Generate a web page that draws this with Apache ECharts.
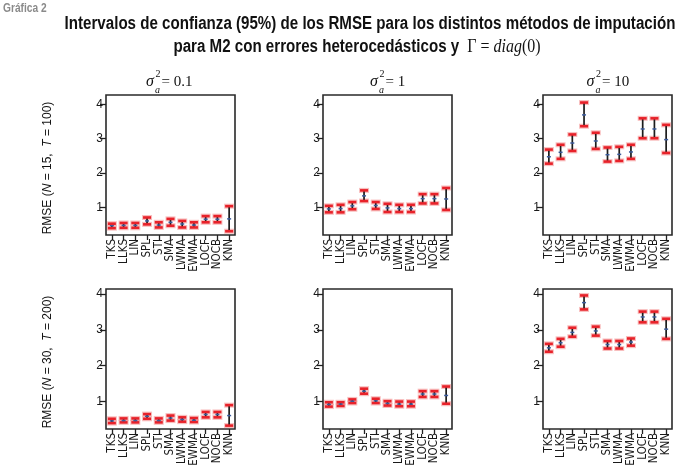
<!DOCTYPE html>
<html>
<head>
<meta charset="utf-8">
<script src="https://cdn.jsdelivr.net/npm/echarts@6/dist/echarts.min.js"></script>
<style>
  html, body { margin: 0; padding: 0; background: #fff; }
  #chart { width: 677px; height: 470px; }
</style>
</head>
<body>
<div id="chart"></div>
<script>
// métodos de imputación
const categories = ["TKS", "LLKS", "LIN", "SPL", "STI", "SMA", "LWMA", "EWMA", "LOCF", "NOCB", "KNN"];
const yTicks = [1, 2, 3, 4];

// fila 1: N = 15, T = 100
const lo11 = [0.39, 0.40, 0.40, 0.50, 0.41, 0.46, 0.41, 0.41, 0.56, 0.56, 0.30];
const mid11 = [0.46, 0.47, 0.47, 0.60, 0.48, 0.56, 0.51, 0.48, 0.65, 0.65, 0.66];
const hi11 = [0.52, 0.54, 0.54, 0.70, 0.56, 0.66, 0.60, 0.56, 0.74, 0.74, 1.03];

const lo12 = [0.85, 0.85, 0.94, 1.18, 0.95, 0.86, 0.86, 0.86, 1.11, 1.11, 0.92];
const mid12 = [0.95, 0.96, 1.04, 1.33, 1.05, 0.98, 0.96, 0.96, 1.25, 1.25, 1.24];
const hi12 = [1.04, 1.07, 1.15, 1.49, 1.15, 1.10, 1.07, 1.07, 1.38, 1.38, 1.56];

const lo13 = [2.27, 2.41, 2.64, 3.36, 2.70, 2.33, 2.35, 2.41, 3.01, 3.01, 2.58];
const mid13 = [2.47, 2.60, 2.87, 3.69, 2.93, 2.53, 2.54, 2.61, 3.28, 3.28, 2.97];
const hi13 = [2.68, 2.82, 3.12, 4.05, 3.17, 2.74, 2.76, 2.82, 3.59, 3.59, 3.40];

// fila 2: N = 30, T = 200
const lo21 = [0.40, 0.42, 0.42, 0.52, 0.42, 0.47, 0.44, 0.43, 0.56, 0.56, 0.33];
const mid21 = [0.46, 0.47, 0.47, 0.59, 0.47, 0.54, 0.50, 0.48, 0.64, 0.64, 0.61];
const hi21 = [0.52, 0.53, 0.53, 0.65, 0.53, 0.61, 0.56, 0.54, 0.71, 0.71, 0.90];

const lo22 = [0.86, 0.88, 0.96, 1.22, 0.96, 0.89, 0.87, 0.87, 1.13, 1.13, 0.94];
const mid22 = [0.92, 0.93, 1.01, 1.29, 1.02, 0.95, 0.93, 0.93, 1.21, 1.21, 1.17];
const hi22 = [0.98, 0.98, 1.06, 1.36, 1.08, 1.01, 1.00, 1.00, 1.29, 1.29, 1.42];

const lo23 = [2.39, 2.53, 2.81, 3.57, 2.84, 2.48, 2.48, 2.56, 3.21, 3.21, 2.75];
const mid23 = [2.50, 2.64, 2.93, 3.76, 2.97, 2.59, 2.59, 2.66, 3.36, 3.36, 3.02];
const hi23 = [2.61, 2.75, 3.06, 3.96, 3.09, 2.69, 2.69, 2.76, 3.51, 3.51, 3.31];

const panelTitles = ["0.1", "1", "10"];
const rowLabels = [["15", "100"], ["30", "200"]];

const panels = [
  [lo11, mid11, hi11], [lo12, mid12, hi12], [lo13, mid13, hi13],
  [lo21, mid21, hi21], [lo22, mid22, hi22], [lo23, mid23, hi23],
];

const colLeft = [106, 323, 543];
const rowTop = [95, 289];
const boxW = 129;
const boxH = 140;
const rowMin = [0.19, 0.235];
const rowMax = [4.27, 4.14];

const cond = "'DejaVu Sans Condensed', 'Liberation Sans', sans-serif";
const sans = "'Liberation Sans', 'DejaVu Sans', sans-serif";
const serif = "'Liberation Serif', 'DejaVu Serif', serif";

function renderItem(params, api) {
  const x = api.value(0);
  const lo = api.coord([x, api.value(1)]);
  const mid = api.coord([x, api.value(2)]);
  const hi = api.coord([x, api.value(3)]);
  const cap = (p, w, lw, color) => ({
    type: "line",
    shape: { x1: p[0] - w / 2, y1: p[1], x2: p[0] + w / 2, y2: p[1] },
    style: { stroke: color, lineWidth: lw },
  });
  return {
    type: "group",
    children: [
      cap(lo, 10, 5, "rgba(240,110,110,0.45)"),
      cap(hi, 10, 5, "rgba(240,110,110,0.45)"),
      {
        type: "line",
        shape: { x1: lo[0], y1: lo[1], x2: hi[0], y2: hi[1] },
        style: { stroke: "#1c1c1c", lineWidth: 1.7 },
      },
      cap(lo, 8, 2.6, "#e8222a"),
      cap(hi, 8, 2.6, "#e8222a"),
      cap(mid, 4, 1.5, "#3b5b9c"),
    ],
  };
}

const grids = [], xAxes = [], yAxes = [], series = [], graphics = [];

panels.forEach((p, k) => {
  const r = Math.floor(k / 3), c = k % 3;
  grids.push({
    left: colLeft[c], top: rowTop[r], width: boxW, height: boxH,
    show: true, borderColor: "#2a2a2a", borderWidth: 1.6, backgroundColor: "transparent",
  });
  xAxes.push({
    type: "category", gridIndex: k, data: categories, boundaryGap: true,
    axisLine: { show: false },
    axisTick: { show: true, alignWithLabel: true, length: 5, lineStyle: { color: "#222", width: 1.3 } },
    axisLabel: { rotate: 90, interval: 0, margin: 4, fontSize: 11.5, color: "#1a1a1a", fontFamily: cond },
    splitLine: { show: false },
  });
  yAxes.push({
    type: "value", gridIndex: k, min: rowMin[r], max: rowMax[r],
    axisLine: { show: false },
    axisTick: { show: true, length: 6, customValues: yTicks, lineStyle: { color: "#222", width: 1.3 } },
    axisLabel: { customValues: yTicks, margin: 3, fontSize: 12, color: "#1a1a1a", fontFamily: sans },
    splitLine: { show: false },
  });
  series.push({
    type: "custom", xAxisIndex: k, yAxisIndex: k,
    renderItem: renderItem,
    encode: { x: 0, y: [1, 2, 3] },
    data: categories.map((cat, i) => [i, p[0][i], p[1][i], p[2][i]]),
    z: 5,
  });
});

// títulos de columna: sigma_a^2 = valor
panelTitles.forEach((t, c) => {
  const cx = colLeft[c] + boxW / 2;
  const w = 18 + t.length * 7 + 10;
  graphics.push({
    type: "group", x: cx - w / 2, y: 82,
    children: [
      { type: "text", x: 0, y: 0, style: { text: "σ", font: "italic 16px " + serif, fill: "#111", textVerticalAlign: "middle" } },
      { type: "text", x: 9.5, y: -8, style: { text: "2", font: "10px " + serif, fill: "#111", textVerticalAlign: "middle" } },
      { type: "text", x: 9, y: 8, style: { text: "a", font: "italic 10px " + serif, fill: "#111", textVerticalAlign: "middle" } },
      { type: "text", x: 15.5, y: 0, style: { text: "= " + t, font: "15px " + serif, fill: "#111", textVerticalAlign: "middle" } },
    ],
  });
});

// etiquetas de fila
rowLabels.forEach((rl, r) => {
  graphics.push({
    type: "text", x: 48, y: rowTop[r] + boxH / 2 + 3, rotation: Math.PI / 2,
    style: {
      text: "RMSE ({i|N} = " + rl[0] + ",  {i|T} = " + rl[1] + ")",
      font: "12px " + sans, fill: "#111", textAlign: "center", textVerticalAlign: "middle",
      rich: { i: { fontStyle: "italic", fontSize: 12, fontFamily: sans } },
    },
  });
});

graphics.push({
  type: "text", x: 3, y: 9, scaleX: 0.85,
  style: { text: "Gráfica 2", font: "bold 12px " + sans, fill: "#8a8a8a", textVerticalAlign: "middle" },
});
graphics.push({
  type: "text", x: 370, y: 24, scaleX: 0.84,
  style: {
    text: "Intervalos de confianza (95%) de los RMSE para los distintos métodos de imputación",
    font: "bold 18px " + sans, fill: "#111", textAlign: "center", textVerticalAlign: "middle",
  },
});
graphics.push({
  type: "text", x: 357, y: 47, scaleX: 0.84,
  style: {
    text: "{b|para M2 con errores heterocedásticos y }{g| Γ = }{i|diag}{g|(0)}",
    fill: "#111", textAlign: "center", textVerticalAlign: "middle",
    rich: {
      b: { fontWeight: "bold", fontSize: 18, fontFamily: sans, fill: "#111" },
      g: { fontSize: 19, fontFamily: serif, fill: "#111" },
      i: { fontSize: 19, fontStyle: "italic", fontFamily: serif, fill: "#111" },
    },
  },
});

const myChart = echarts.init(document.getElementById("chart"), null, { renderer: "canvas" });
myChart.setOption({
  animation: false,
  backgroundColor: "#fff",
  grid: grids,
  xAxis: xAxes,
  yAxis: yAxes,
  series: series,
  graphic: graphics,
});
window.addEventListener("resize", function () {
  myChart.resize();
});
</script>
</body>
</html>
